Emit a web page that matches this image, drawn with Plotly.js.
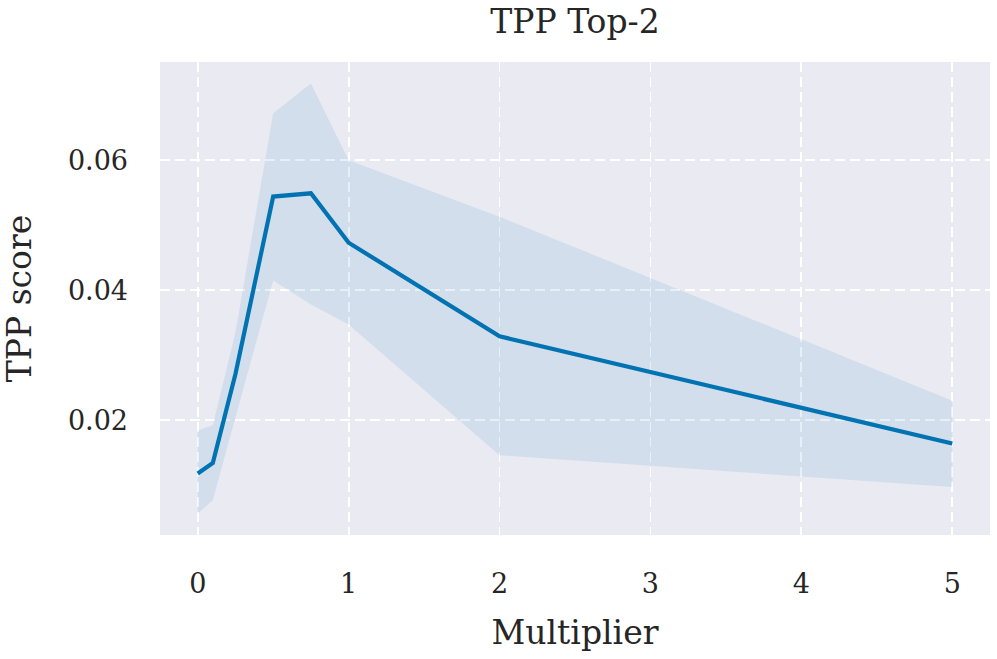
<!DOCTYPE html>
<html>
<head>
<meta charset="utf-8">
<script src="https://cdn.plot.ly/plotly-3.0.1.min.js"></script>
<style>html,body{margin:0;padding:0;background:#fff;}#chart{width:997px;height:659px;}</style>
</head>
<body>
<div id="chart"></div>
<script>
var multipliers = [0, 0.1, 0.25, 0.5, 0.75, 1, 2, 5];
var meanScore   = [0.0118, 0.0134, 0.0271, 0.0544, 0.0549, 0.0473, 0.0329, 0.0164];
var upperScore  = [0.0184, 0.0192, 0.0335, 0.0672, 0.0718, 0.0600, 0.0513, 0.0230];
var lowerScore  = [0.0056, 0.0077, 0.0204, 0.0415, 0.0378, 0.0347, 0.0146, 0.0097];
var xTicks = [0, 1, 2, 3, 4, 5];
var yTicks = [0.02, 0.04, 0.06];
var yTickLabels = ['0.02', '0.04', '0.06'];

var FONT = 'DejaVu Serif, Liberation Serif, serif';
var traces = [
  {x: multipliers, y: upperScore, mode: 'lines', line: {width: 0, color: 'rgba(0,0,0,0)'}, hoverinfo: 'skip', showlegend: false},
  {x: multipliers, y: lowerScore, mode: 'lines', line: {width: 0, color: 'rgba(0,0,0,0)'}, fill: 'tonexty', fillcolor: 'rgba(1,115,178,0.1)', hoverinfo: 'skip', showlegend: false},
  {x: multipliers, y: meanScore, mode: 'lines', line: {width: 4.2, color: '#0173B2'}, showlegend: false}
];
var layout = {
  width: 997, height: 659,
  margin: {l: 160, r: 7, t: 62, b: 124},
  paper_bgcolor: '#ffffff',
  plot_bgcolor: '#EAEAF2',
  font: {family: FONT, color: '#262626', size: 27},
  title: {text: 'TPP Top-2', font: {family: FONT, size: 33, color: '#262626'}, x: 0.5, xref: 'paper', xanchor: 'center', y: 0.967, yref: 'container', yanchor: 'middle'},
  xaxis: {
    range: [-0.25, 5.25], tickvals: xTicks, ticktext: xTicks.map(String),
    showgrid: true, gridcolor: '#ffffff', gridwidth: 1.8, griddash: '10px,5px',
    zeroline: false, showline: false, ticks: '', ticklabelstandoff: 30,
    tickfont: {family: FONT, size: 27, color: '#262626'},
    title: {text: 'Multiplier', font: {family: FONT, size: 33, color: '#262626'}, standoff: 22}
  },
  yaxis: {
    range: [0.00233, 0.0751], tickvals: yTicks, ticktext: yTickLabels,
    showgrid: true, gridcolor: '#ffffff', gridwidth: 1.8, griddash: '10px,5px',
    zeroline: false, showline: false, ticks: '', ticklabelstandoff: 31,
    tickfont: {family: FONT, size: 27, color: '#262626'},
    title: {text: 'TPP score', font: {family: FONT, size: 33, color: '#262626'}, standoff: 26}
  }
};
Plotly.newPlot('chart', traces, layout, {displayModeBar: false, staticPlot: true});
</script>
</body>
</html>
